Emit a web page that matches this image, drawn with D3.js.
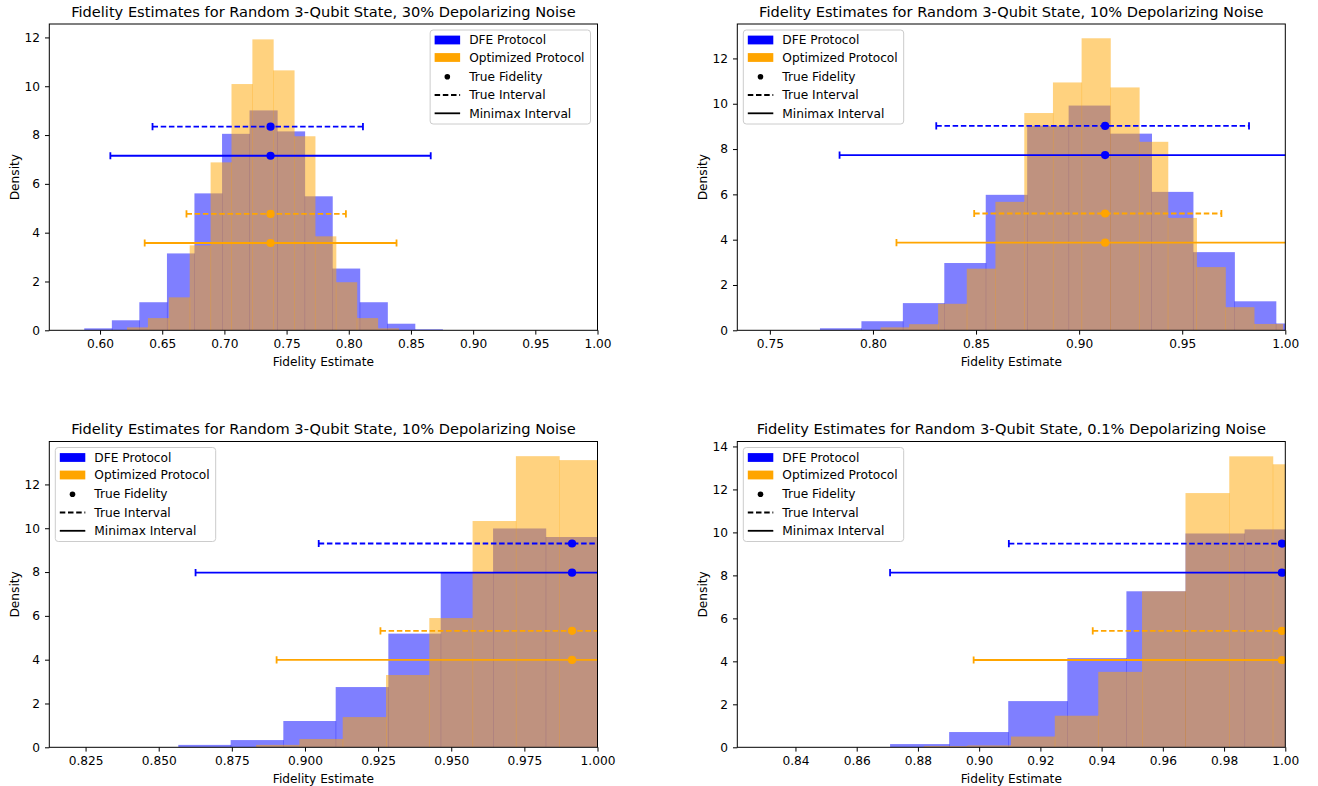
<!DOCTYPE html>
<html>
<head>
<meta charset="utf-8">
<script src="https://cdn.jsdelivr.net/npm/d3@7"></script>
<style>
  body { margin: 0; background: #fff; }
  svg { font-family: "DejaVu Sans", sans-serif; }
</style>
</head>
<body>
<div id="chart"></div>
<script>
// ---- panel 1 : 30% depolarizing noise ----
const p1DfeEdges = [0.5873, 0.6095, 0.6316, 0.6538, 0.6759, 0.6981, 0.7202, 0.7424, 0.7645, 0.7867, 0.8088, 0.8310, 0.8531, 0.8753];
const p1DfeDensity = [0.08, 0.41, 1.15, 3.15, 5.61, 8.05, 9.01, 8.15, 5.49, 2.53, 1.15, 0.27, 0.04];
const p1OptEdges = [0.6217, 0.6385, 0.6553, 0.6721, 0.6889, 0.7057, 0.7225, 0.7392, 0.7560, 0.7728, 0.7896, 0.8064, 0.8232, 0.8400];
const p1OptDensity = [0.12, 0.50, 1.35, 3.48, 6.88, 10.09, 11.92, 10.65, 7.95, 3.85, 1.97, 0.50, 0.08];
const p1Truth = 0.7371;
const p1DfeTrue = [0.6422, 0.8114];
const p1DfeMinimax = [0.6083, 0.8659];
const p1OptTrue = [0.6695, 0.7977];
const p1OptMinimax = [0.6359, 0.8384];
const p1XDomain = [0.5592, 1.0];
const p1YMax = 12.55;
const p1XTicks = [0.60, 0.65, 0.70, 0.75, 0.80, 0.85, 0.90, 0.95, 1.00];
const p1YTicks = [0, 2, 4, 6, 8, 10, 12];

// ---- panel 2 : 10% depolarizing noise ----
const p2DfeEdges = [0.7743, 0.7944, 0.8145, 0.8346, 0.8547, 0.8748, 0.8949, 0.9150, 0.9351, 0.9552, 0.9753, 0.9954, 1.0155];
const p2DfeDensity = [0.09, 0.40, 1.20, 2.97, 5.98, 9.03, 9.92, 8.68, 6.11, 3.45, 1.28, 0.30];
const p2OptEdges = [0.8037, 0.8176, 0.8316, 0.8455, 0.8594, 0.8734, 0.8873, 0.9012, 0.9151, 0.9291, 0.9430, 0.9569, 0.9709, 0.9848, 0.9987];
const p2OptDensity = [0.13, 0.27, 1.17, 2.72, 5.67, 9.59, 10.94, 12.89, 10.72, 8.32, 4.96, 2.79, 1.02, 0.28];
const p2Truth = 0.9126;
const p2DfeTrue = [0.8307, 0.9824];
const p2DfeMinimax = [0.7838, 1.0414];
const p2OptTrue = [0.8491, 0.9690];
const p2OptMinimax = [0.8114, 1.0138];
const p2XDomain = [0.7342, 1.0];
const p2YMax = 13.52;
const p2XTicks = [0.75, 0.80, 0.85, 0.90, 0.95, 1.00];
const p2YTicks = [0, 2, 4, 6, 8, 10, 12];

// ---- panel 3 : 10% depolarizing noise ----
const p3DfeEdges = [0.8567, 0.8746, 0.8926, 0.9105, 0.9285, 0.9464, 0.9643, 0.9823, 1.0002];
const p3DfeDensity = [0.11, 0.33, 1.20, 2.75, 5.19, 7.97, 9.99, 9.60];
const p3OptEdges = [0.8833, 0.8981, 0.9129, 0.9277, 0.9425, 0.9573, 0.9721, 0.9869, 1.0017];
const p3OptDensity = [0.11, 0.38, 1.38, 3.30, 5.90, 10.33, 13.29, 13.11];
const p3Truth = 0.9913;
const p3DfeTrue = [0.9047, 1.0779];
const p3DfeMinimax = [0.8626, 1.1200];
const p3OptTrue = [0.9258, 1.0568];
const p3OptMinimax = [0.8903, 1.0923];
const p3XDomain = [0.8126, 1.0];
const p3YMax = 13.96;
const p3XTicks = [0.825, 0.850, 0.875, 0.900, 0.925, 0.950, 0.975, 1.000];
const p3YTicks = [0, 2, 4, 6, 8, 10, 12];

// ---- panel 4 : 0.1% depolarizing noise ----
const p4DfeEdges = [0.8709, 0.8902, 0.9095, 0.9288, 0.9481, 0.9674, 0.9867, 1.0060];
const p4DfeDensity = [0.15, 0.71, 2.15, 4.15, 7.26, 9.95, 10.14];
const p4OptEdges = [0.8819, 0.8962, 0.9104, 0.9247, 0.9389, 0.9532, 0.9674, 0.9817, 0.9959, 1.0102];
const p4OptDensity = [0.06, 0.09, 0.50, 1.47, 3.51, 7.26, 11.83, 13.54, 13.17];
const p4Truth = 0.9989;
const p4DfeTrue = [0.9097, 1.0881];
const p4DfeMinimax = [0.8709, 1.1269];
const p4OptTrue = [0.9371, 1.0607];
const p4OptMinimax = [0.8982, 1.0996];
const p4XDomain = [0.821, 1.0];
const p4YMax = 14.23;
const p4XTicks = [0.84, 0.86, 0.88, 0.90, 0.92, 0.94, 0.96, 0.98, 1.00];
const p4YTicks = [0, 2, 4, 6, 8, 10, 12, 14];

const titles = [
  "Fidelity Estimates for Random 3-Qubit State, 30% Depolarizing Noise",
  "Fidelity Estimates for Random 3-Qubit State, 10% Depolarizing Noise",
  "Fidelity Estimates for Random 3-Qubit State, 10% Depolarizing Noise",
  "Fidelity Estimates for Random 3-Qubit State, 0.1% Depolarizing Noise"
];
const legendLabels = ["DFE Protocol", "Optimized Protocol", "True Fidelity", "True Interval", "Minimax Interval"];
// error bars sit at these fractions of the tallest bar
const barLevels = [0.7, 0.6, 0.4, 0.3];

const DFE_COLOR = "#0000ff";
const OPT_COLOR = "#ffa500";
const FS = 12.2;   // tick / label / legend font size
const TFS = 14.6;  // title font size

// svg
const W = 1318, H = 786;
const svg = d3.select("#chart").append("svg")
  .attr("width", W).attr("height", H);

// panel boxes in pixels
const cols = [[49.3, 597.5], [737.3, 1285.3]];
const rows = [[24, 330.3], [441.5, 747.3]];

const panels = [
  {dfeE: p1DfeEdges, dfeD: p1DfeDensity, optE: p1OptEdges, optD: p1OptDensity, truth: p1Truth,
   iv: [p1DfeTrue, p1DfeMinimax, p1OptTrue, p1OptMinimax], xd: p1XDomain, ymax: p1YMax,
   xt: p1XTicks, yt: p1YTicks, fmt: ".2f", col: 0, row: 0, legendRight: true},
  {dfeE: p2DfeEdges, dfeD: p2DfeDensity, optE: p2OptEdges, optD: p2OptDensity, truth: p2Truth,
   iv: [p2DfeTrue, p2DfeMinimax, p2OptTrue, p2OptMinimax], xd: p2XDomain, ymax: p2YMax,
   xt: p2XTicks, yt: p2YTicks, fmt: ".2f", col: 1, row: 0, legendRight: false},
  {dfeE: p3DfeEdges, dfeD: p3DfeDensity, optE: p3OptEdges, optD: p3OptDensity, truth: p3Truth,
   iv: [p3DfeTrue, p3DfeMinimax, p3OptTrue, p3OptMinimax], xd: p3XDomain, ymax: p3YMax,
   xt: p3XTicks, yt: p3YTicks, fmt: ".3f", col: 0, row: 1, legendRight: false},
  {dfeE: p4DfeEdges, dfeD: p4DfeDensity, optE: p4OptEdges, optD: p4OptDensity, truth: p4Truth,
   iv: [p4DfeTrue, p4DfeMinimax, p4OptTrue, p4OptMinimax], xd: p4XDomain, ymax: p4YMax,
   xt: p4XTicks, yt: p4YTicks, fmt: ".2f", col: 1, row: 1, legendRight: false}
];

const defs = svg.append("defs");

panels.forEach(function(P, k) {
  const L = cols[P.col][0], R = cols[P.col][1];
  const T = rows[P.row][0], B = rows[P.row][1];
  const x = d3.scaleLinear().domain(P.xd).range([L, R]);
  const y = d3.scaleLinear().domain([0, P.ymax]).range([B, T]);
  const g = svg.append("g");

  defs.append("clipPath").attr("id", "clip" + k)
    .append("rect").attr("x", L).attr("y", T).attr("width", R - L).attr("height", B - T);
  const plot = g.append("g").attr("clip-path", "url(#clip" + k + ")");

  // histograms, DFE first then optimized on top
  const series = [
    {edges: P.dfeE, dens: P.dfeD, color: DFE_COLOR},
    {edges: P.optE, dens: P.optD, color: OPT_COLOR}
  ];
  series.forEach(function(s) {
    plot.append("g").selectAll("rect")
      .data(s.dens)
      .join("rect")
      .attr("x", (d, i) => x(s.edges[i]))
      .attr("width", (d, i) => x(s.edges[i + 1]) - x(s.edges[i]) + 0.5)
      .attr("y", d => y(d))
      .attr("height", d => y(0) - y(d))
      .attr("fill", s.color)
      .attr("fill-opacity", 0.5);
  });

  // error bars
  const peak = d3.max(P.dfeD.concat(P.optD));
  const bars = [
    {iv: P.iv[0], lvl: barLevels[0], color: DFE_COLOR, dash: true},
    {iv: P.iv[1], lvl: barLevels[1], color: DFE_COLOR, dash: false},
    {iv: P.iv[2], lvl: barLevels[2], color: OPT_COLOR, dash: true},
    {iv: P.iv[3], lvl: barLevels[3], color: OPT_COLOR, dash: false}
  ];
  bars.forEach(function(b) {
    const yy = y(b.lvl * peak);
    const eb = plot.append("g");
    eb.append("line")
      .attr("x1", x(b.iv[0])).attr("x2", x(b.iv[1]))
      .attr("y1", yy).attr("y2", yy)
      .attr("stroke", b.color).attr("stroke-width", 1.8)
      .attr("stroke-dasharray", b.dash ? "5.5,2.7" : null);
    eb.selectAll(".cap").data(b.iv).join("line")
      .attr("class", "cap")
      .attr("x1", d => x(d)).attr("x2", d => x(d))
      .attr("y1", yy - 3.6).attr("y2", yy + 3.6)
      .attr("stroke", b.color).attr("stroke-width", 1.8);
    eb.append("circle")
      .attr("cx", x(P.truth)).attr("cy", yy).attr("r", 4.1)
      .attr("fill", b.color);
  });

  // axes
  const xAxis = g.append("g")
    .attr("transform", "translate(0," + B + ")")
    .call(d3.axisBottom(x).tickValues(P.xt).tickFormat(d3.format(P.fmt))
      .tickSize(4.3).tickPadding(4.7));
  const yAxis = g.append("g")
    .attr("transform", "translate(" + L + ",0)")
    .call(d3.axisLeft(y).tickValues(P.yt).tickFormat(d3.format("d"))
      .tickSize(4.3).tickPadding(5));
  [xAxis, yAxis].forEach(function(a) {
    a.select(".domain").remove();
    a.selectAll("text").attr("font-size", FS).attr("fill", "#000")
      .attr("font-family", "DejaVu Sans, sans-serif");
    a.selectAll("line").attr("stroke", "#000").attr("stroke-width", 1);
  });

  // spines
  g.append("rect")
    .attr("x", L).attr("y", T).attr("width", R - L).attr("height", B - T)
    .attr("fill", "none").attr("stroke", "#000").attr("stroke-width", 1);

  // labels
  g.append("text")
    .attr("x", (L + R) / 2).attr("y", T - 7.2)
    .attr("text-anchor", "middle").attr("font-size", TFS)
    .text(titles[k]);
  g.append("text")
    .attr("x", (L + R) / 2).attr("y", B + 35.4)
    .attr("text-anchor", "middle").attr("font-size", FS)
    .text("Fidelity Estimate");
  g.append("text")
    .attr("transform", "translate(" + (L - 30.8) + "," + ((T + B) / 2) + ") rotate(-90)")
    .attr("text-anchor", "middle").attr("font-size", FS)
    .text("Density");

  // legend
  const lg = g.append("g");
  const box = lg.append("rect");
  const rowY = [10, 27.5, 46.7, 65, 83.3];
  const texts = lg.selectAll("text").data(legendLabels).join("text")
    .attr("x", 39).attr("y", (d, i) => rowY[i])
    .attr("dy", "0.35em").attr("font-size", FS)
    .text(d => d);
  let tw = 0;
  texts.each(function() { tw = Math.max(tw, this.getComputedTextLength()); });
  const bw = 39 + tw + 6, bh = 94;
  box.attr("width", bw).attr("height", bh).attr("rx", 3)
    .attr("fill", "#fff").attr("fill-opacity", 0.8)
    .attr("stroke", "#cccccc").attr("stroke-width", 1);
  lg.append("rect").attr("x", 4.5).attr("y", rowY[0] - 4.4).attr("width", 25.5).attr("height", 8.8).attr("fill", DFE_COLOR);
  lg.append("rect").attr("x", 4.5).attr("y", rowY[1] - 4.4).attr("width", 25.5).attr("height", 8.8).attr("fill", OPT_COLOR);
  lg.append("circle").attr("cx", 17.2).attr("cy", rowY[2]).attr("r", 2.8).attr("fill", "#000");
  lg.append("line").attr("x1", 4.5).attr("x2", 30).attr("y1", rowY[3]).attr("y2", rowY[3])
    .attr("stroke", "#000").attr("stroke-width", 1.8).attr("stroke-dasharray", "5.5,2.7");
  lg.append("line").attr("x1", 4.5).attr("x2", 30).attr("y1", rowY[4]).attr("y2", rowY[4])
    .attr("stroke", "#000").attr("stroke-width", 1.8);
  const lx = P.legendRight ? R - 7 - bw : L + 6;
  lg.attr("transform", "translate(" + lx + "," + (T + 6) + ")");
});
</script>
</body>
</html>
